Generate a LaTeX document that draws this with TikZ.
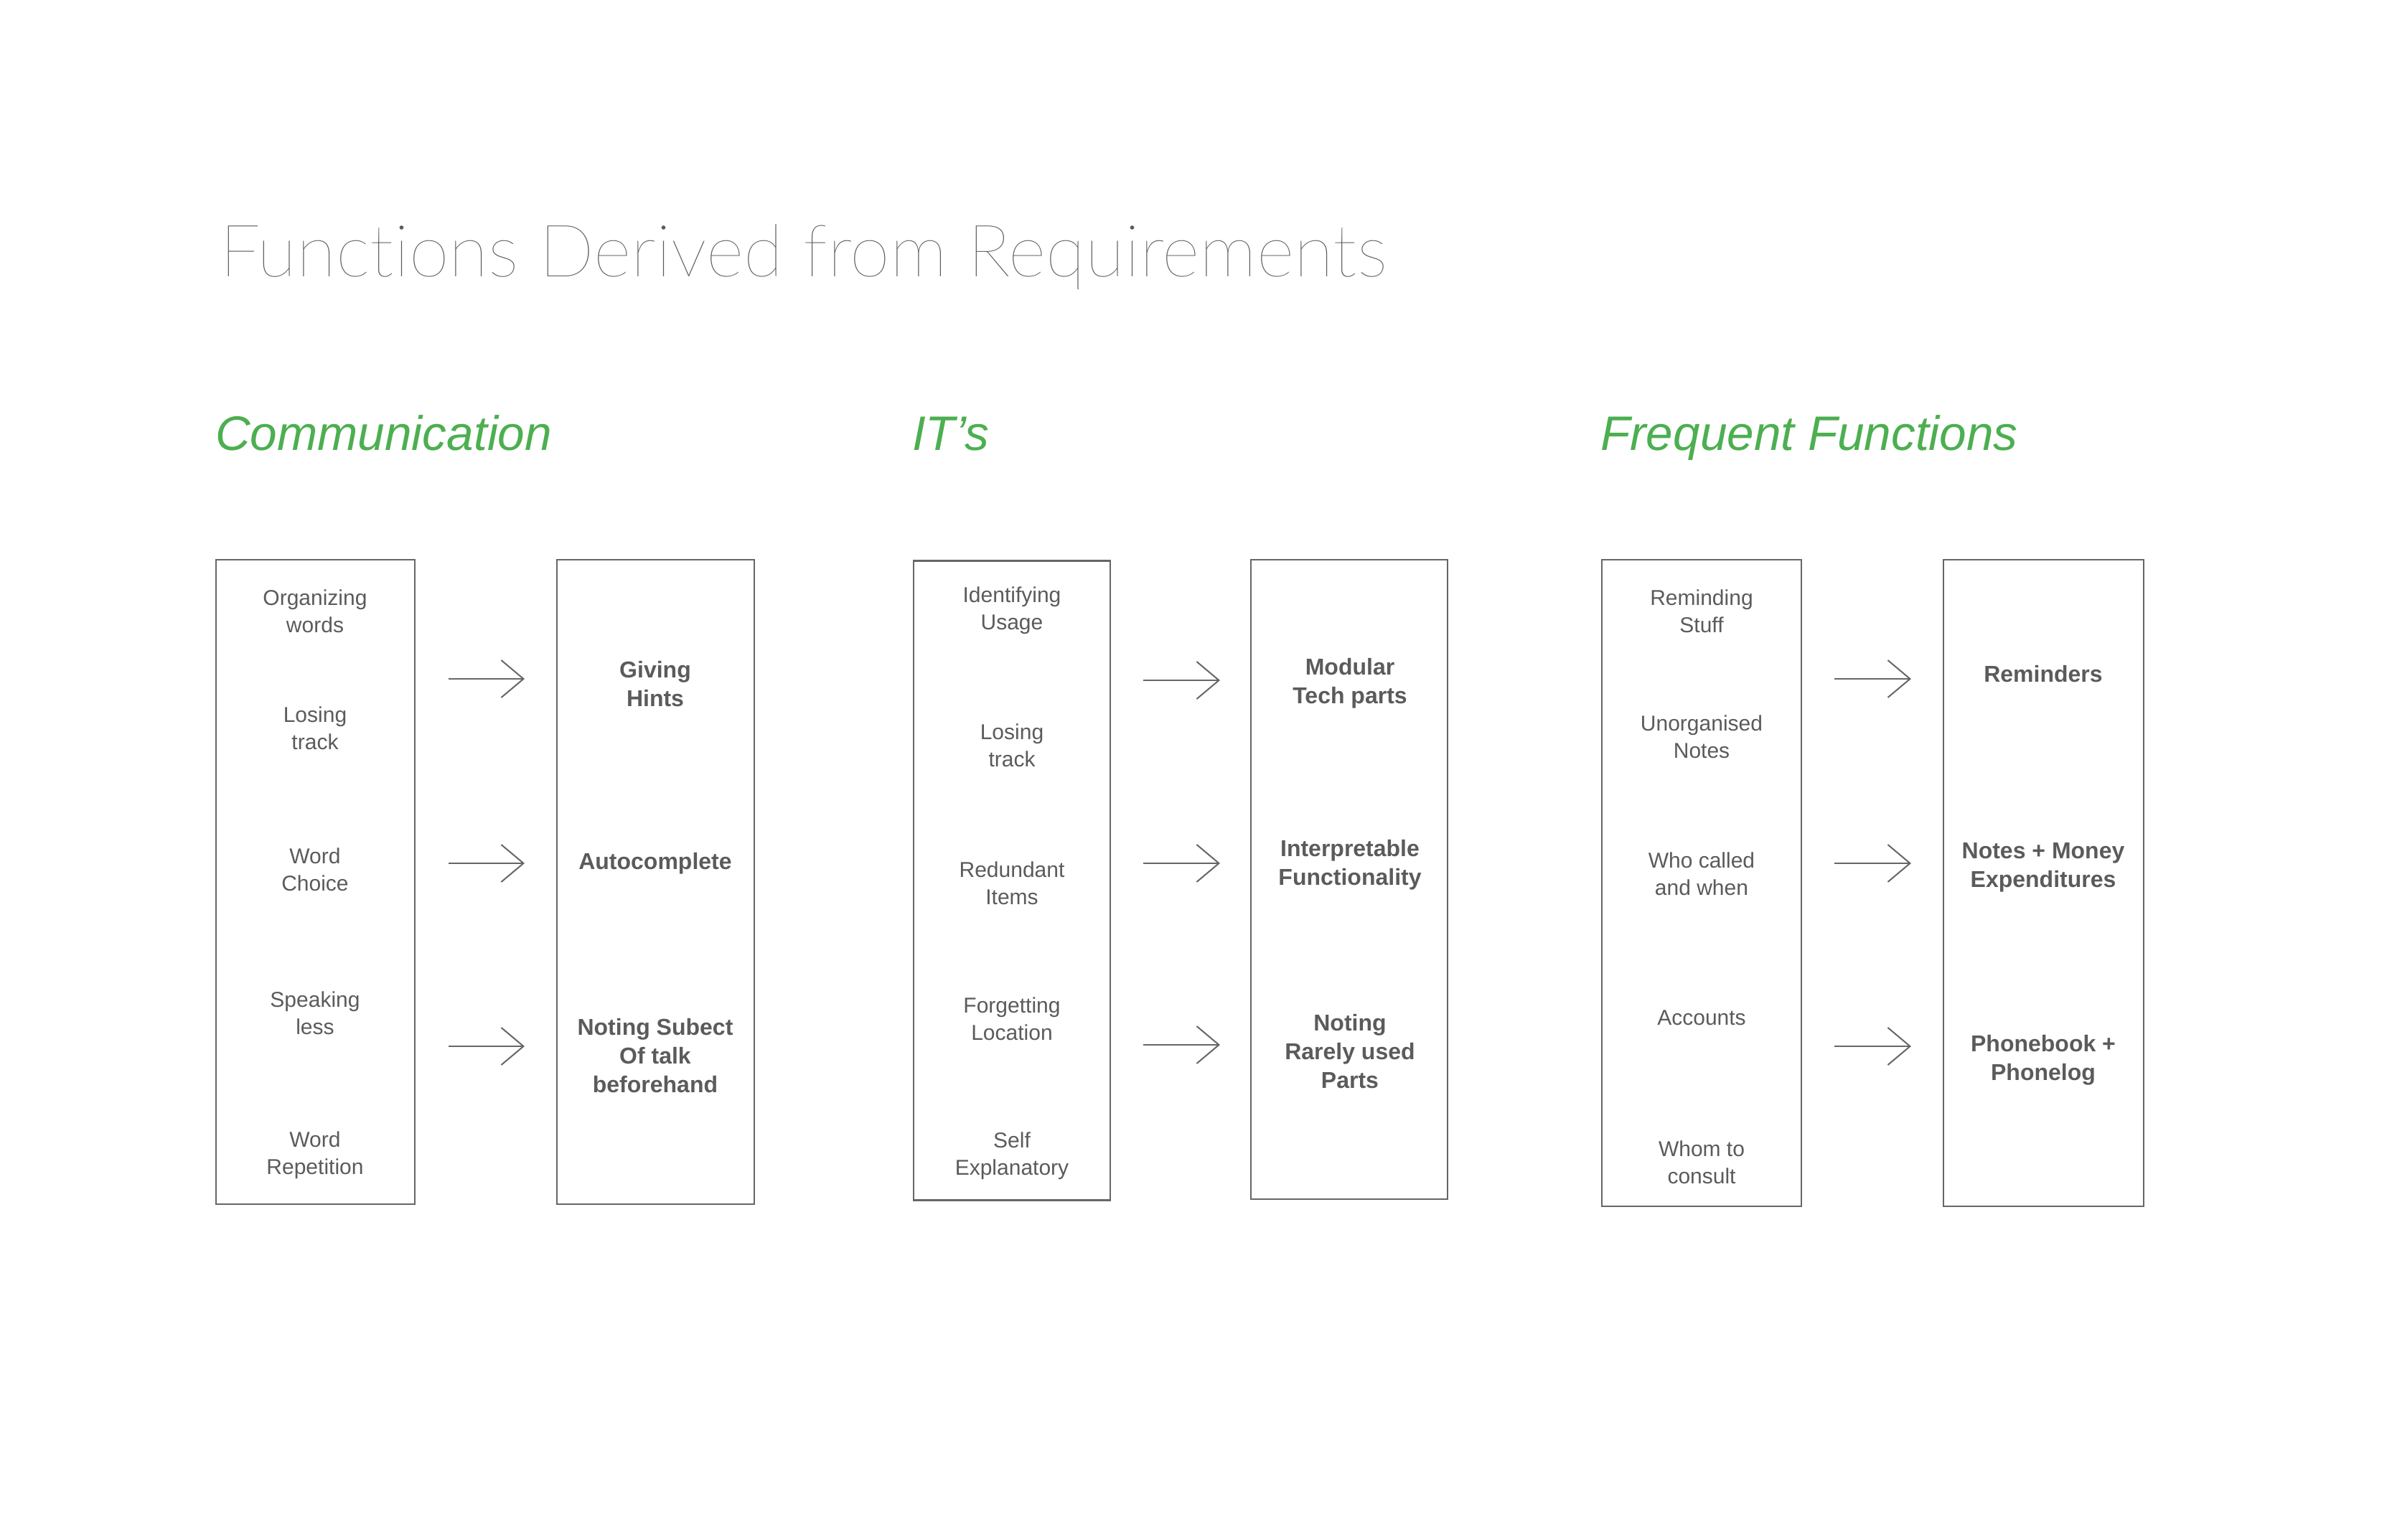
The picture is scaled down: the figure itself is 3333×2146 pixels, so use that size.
\documentclass[tikz,border=0pt]{standalone}
\usepackage{fontspec}
\setmainfont{Liberation Sans}
\newfontfamily\titlefont[Ligatures={NoCommon}]{Lato Thin}
\usetikzlibrary{arrows.meta}
\definecolor{txtgray}{HTML}{5B5B5B}
\definecolor{linegray}{HTML}{666666}
\definecolor{headgreen}{HTML}{4CAF50}
\tikzset{
  box/.style={draw=linegray, line width=2.4pt, minimum width=#1, inner sep=0pt},
  lt/.style={text=txtgray, align=center, font=\fontsize{30}{38}\selectfont, inner sep=0pt},
  bt/.style={text=txtgray, align=center, font=\fontsize{32}{40}\selectfont\bfseries, inner sep=0pt},
  head/.style={text=headgreen, anchor=base west, inner sep=0pt, font=\fontsize{67.5}{80}\selectfont\itshape},
  arr/.style={draw=linegray, line width=2pt, -{Straight Barb[length=31pt, width=52pt, line width=2pt]}}
}
\begin{document}
\begin{tikzpicture}[x=1pt,y=-1pt]
\useasboundingbox (0,0) rectangle (3333,2146);
\fill[white] (0,0) rectangle (3333,2146);

% title
\node[anchor=base west, inner sep=0pt, text=txtgray, font=\fontsize{101}{110}\selectfont\titlefont] (title) at (306,385) {Functions Derived from Requirements};

% headings
\node[head] (h1) at (300,627) {Communication};
\node[head] (h2) at (1271,627) {IT’s};
\node[head] (h3) at (2230,627) {Frequent Functions};

% boxes
\node[box=277pt, minimum height=898pt] (b1l) at (439.5,1229) {};
\node[box=275pt, minimum height=898pt] (b1r) at (913.5,1229) {};
\node[box=274pt, minimum height=891pt] (b2l) at (1410,1227) {};
\node[box=274pt, minimum height=891pt] (b2r) at (1880,1225.5) {};
\node[box=278pt, minimum height=901pt] (b3l) at (2371,1230.5) {};
\node[box=279pt, minimum height=901pt] (b3r) at (2847.5,1230.5) {};

% column 1 texts
\node[lt] (c1a) at (439,852) {Organizing\\words};
\node[lt] (c1b) at (439,1015) {Losing\\track};
\node[lt] (c1c) at (439,1212) {Word\\Choice};
\node[lt] (c1d) at (439,1412) {Speaking\\less};
\node[lt] (c1e) at (439,1610) {Word\\Repetition};
\node[bt] (r1a) at (913,953) {Giving\\Hints};
\node[bt] (r1b) at (913,1203) {Autocomplete};
\node[bt] (r1c) at (913,1471) {Noting Subect\\Of talk\\beforehand};

% column 2 texts
\node[lt] (c2a) at (1410,851) {Identifying\\Usage};
\node[lt] (c2b) at (1410,1039) {Losing\\track};
\node[lt] (c2c) at (1410,1231) {Redundant\\Items};
\node[lt] (c2d) at (1410,1420) {Forgetting\\Location};
\node[lt] (c2e) at (1410,1611) {Self\\Explanatory};
\node[bt] (r2a) at (1881,952) {Modular\\Tech parts};
\node[bt] (r2b) at (1881,1205) {Interpretable\\Functionality};
\node[bt] (r2c) at (1881,1465) {Noting\\Rarely used\\Parts};

% column 3 texts
\node[lt] (c3a) at (2371,852) {Reminding\\Stuff};
\node[lt] (c3b) at (2371,1027) {Unorganised\\Notes};
\node[lt] (c3c) at (2371,1218) {Who called\\and when};
\node[lt] (c3d) at (2371,1418) {Accounts};
\node[lt] (c3e) at (2371,1620) {Whom to\\consult};
\node[bt] (r3a) at (2847,939) {Reminders};
\node[bt] (r3b) at (2847,1209) {Notes + Money\\Expenditures};
\node[bt] (r3c) at (2847,1477) {Phonebook +\\Phonelog};

% arrows
\coordinate (a1s) at (625,946);  \coordinate (a1e) at (731,946);
\coordinate (a2s) at (625,1203); \coordinate (a2e) at (731,1203);
\coordinate (a3s) at (625,1458); \coordinate (a3e) at (731,1458);
\coordinate (a4s) at (1593,948); \coordinate (a4e) at (1700,948);
\coordinate (a5s) at (1593,1203);\coordinate (a5e) at (1700,1203);
\coordinate (a6s) at (1593,1456);\coordinate (a6e) at (1700,1456);
\coordinate (a7s) at (2556,946); \coordinate (a7e) at (2663,946);
\coordinate (a8s) at (2556,1203);\coordinate (a8e) at (2663,1203);
\coordinate (a9s) at (2556,1458);\coordinate (a9e) at (2663,1458);
\foreach \i in {1,...,9} { \draw[arr] (a\i s) -- (a\i e); }
\end{tikzpicture}
\end{document}
